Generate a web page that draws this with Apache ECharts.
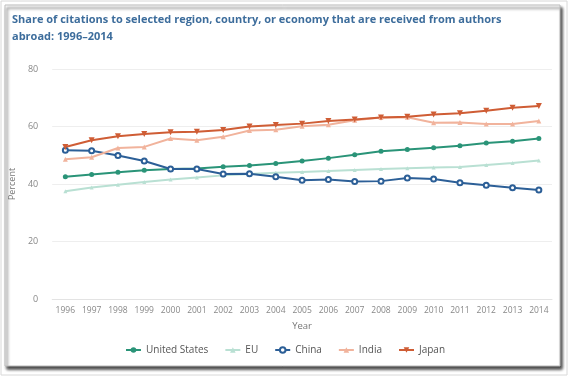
<!DOCTYPE html>
<html>
<head>
<meta charset="utf-8">
<script src="https://cdn.jsdelivr.net/npm/echarts@6/dist/echarts.min.js"></script>
<style>
  html, body { margin: 0; padding: 0; background: #fff; }
  #chart { width: 570px; height: 377px; }
</style>
</head>
<body>
<div id="chart"></div>
<script>
// years on the x axis
const years = ['1996', '1997', '1998', '1999', '2000', '2001', '2002', '2003', '2004', '2005',
  '2006', '2007', '2008', '2009', '2010', '2011', '2012', '2013', '2014'];

// share of citations received from authors abroad (percent)
const unitedStates = [42.5, 43.3, 44.1, 44.8, 45.2, 45.4, 46.0, 46.4, 47.1, 48.0, 49.0, 50.2, 51.4, 52.0, 52.6, 53.3, 54.3, 54.9, 55.8];
const eu = [37.5, 38.8, 39.7, 40.7, 41.6, 42.3, 43.0, 43.5, 43.9, 44.2, 44.5, 44.9, 45.2, 45.5, 45.7, 45.9, 46.6, 47.3, 48.2];
const china = [51.7, 51.6, 49.9, 48.0, 45.2, 45.2, 43.5, 43.6, 42.5, 41.3, 41.6, 40.9, 41.0, 42.1, 41.7, 40.4, 39.6, 38.7, 37.9];
const india = [48.6, 49.3, 52.5, 52.9, 55.8, 55.2, 56.4, 58.6, 58.9, 60.1, 60.6, 62.2, 63.1, 63.2, 61.3, 61.4, 60.9, 60.9, 61.9];
const japan = [52.9, 55.2, 56.6, 57.4, 58.0, 58.2, 58.8, 60.0, 60.5, 61.0, 61.9, 62.4, 63.1, 63.4, 64.2, 64.6, 65.5, 66.5, 67.1];

const yTicks = [0, 20, 40, 60, 80];

let chart = echarts.init(document.getElementById('chart'));

function lineSeries(name, data, color, symbol, size, extra) {
  return Object.assign({
    name: name,
    type: 'line',
    data: data,
    symbol: symbol,
    symbolSize: size,
    lineStyle: { color: color, width: 2 },
    itemStyle: { color: color },
    emphasis: { disabled: true }
  }, extra || {});
}

chart.setOption({
  animation: false,
  textStyle: { fontFamily: '"Open Sans", sans-serif' },
  // framed card look
  graphic: [
    {
      type: 'rect', z: -20, silent: true,
      shape: { x: 1, y: 1, width: 566, height: 374 },
      style: { fill: 'none', stroke: '#d8d8d8', lineWidth: 1 }
    },
    {
      type: 'rect', z: -10, silent: true,
      shape: { x: 5, y: 5, width: 555, height: 361 },
      style: {
        fill: '#fff', stroke: '#bbb', lineWidth: 1,
        shadowBlur: 3, shadowOffsetX: 2, shadowOffsetY: 3, shadowColor: 'rgba(0,0,0,0.75)'
      }
    }
  ],
  title: {
    text: 'Share of citations to selected region, country, or economy that are received from authors\nabroad: 1996\u20132014',
    left: 7,
    top: 6,
    textStyle: { color: '#3d6d9c', fontSize: 11, fontWeight: 'bold', lineHeight: 17 }
  },
  grid: { left: 52, right: 18, top: 69, bottom: 78 },
  legend: {
    bottom: 17,
    left: 'center',
    itemWidth: 15,
    itemHeight: 7,
    itemGap: 16,
    textStyle: { color: '#555', fontSize: 10 },
    data: ['United States', 'EU', 'China', 'India', 'Japan']
  },
  xAxis: {
    type: 'category',
    data: years,
    name: 'Year',
    nameLocation: 'middle',
    nameGap: 22,
    nameTextStyle: { color: '#777', fontSize: 9.5 },
    axisLine: { lineStyle: { color: '#e3e3e3' } },
    axisTick: { alignWithLabel: true, length: 4, lineStyle: { color: '#e3e3e3' } },
    axisLabel: { color: '#888', fontSize: 8.5, margin: 7, interval: 0 }
  },
  yAxis: {
    type: 'value',
    min: yTicks[0],
    max: yTicks[yTicks.length - 1],
    interval: 20,
    name: 'Percent',
    nameLocation: 'middle',
    nameGap: 32,
    nameTextStyle: { color: '#777', fontSize: 9 },
    axisLabel: { color: '#888', fontSize: 9, margin: 14 },
    splitLine: { lineStyle: { color: '#eee' } }
  },
  series: [
    lineSeries('United States', unitedStates, '#2a9478', 'circle', 5),
    lineSeries('EU', eu, '#b9e0d3', 'triangle', 4),
    lineSeries('China', china, '#2c5f97', 'emptyCircle', 5, { itemStyle: { color: '#2c5f97', borderWidth: 1.6 } }),
    lineSeries('India', india, '#f1b39c', 'triangle', 5),
    lineSeries('Japan', japan, '#cf5d35', 'path://M0,0L10,0L5,9z', 6)
  ]
});

window.onresize = () => { chart.resize(); };
</script>
</body>
</html>
